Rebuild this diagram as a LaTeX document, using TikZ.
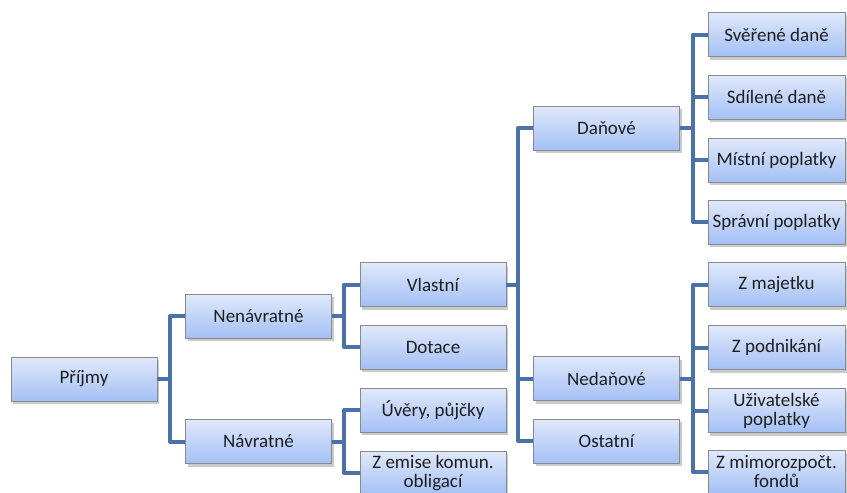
\documentclass[tikz,border=0pt]{standalone}
\usepackage{fontspec}
\setmainfont{Carlito}
\usetikzlibrary{shadows}
\definecolor{linkblue}{HTML}{4A72A8}
\definecolor{boxtop}{HTML}{E0E9FB}
\definecolor{boxbot}{HTML}{A3C0F5}
\definecolor{boxline}{HTML}{8A8A8A}
\definecolor{txt}{HTML}{1E1E1E}
\tikzset{
  box/.style={draw=boxline, line width=0.8pt, top color=boxtop, bottom color=boxbot,
    minimum width=146pt, minimum height=44pt, inner sep=1pt, align=center,
    text=txt, font=\fontsize{19}{19}\selectfont,
    drop shadow={shadow xshift=2pt, shadow yshift=-3pt, opacity=0.35, fill=black!60}},
  narrow/.style={box, minimum width=137pt},
  link/.style={draw=linkblue, line width=4pt, line join=round}
}
\begin{document}
\begin{tikzpicture}[x=1pt, y=-1pt]
\useasboundingbox (0,0) rectangle (847,493);
\node[box] (prijmy) at (84,379) {Příjmy};
\node[box] (nenav) at (258.5,316) {Nenávratné};
\node[box] (nav) at (258.5,441.5) {Návratné};
\node[box] (vlast) at (433,284.5) {Vlastní};
\node[box] (dot) at (433,347) {Dotace};
\node[box] (uver) at (433,410) {Úvěry, půjčky};
\node[box] (emise) at (433,473) {Z emise komun.\\obligací};
\node[box] (dan) at (606.5,128) {Daňové};
\node[box] (nedan) at (606.5,378.5) {Nedaňové};
\node[box] (ost) at (606.5,441) {Ostatní};
\node[narrow] (sver) at (776.5,34.5) {Svěřené daně};
\node[narrow] (sdil) at (776.5,97) {Sdílené daně};
\node[narrow] (mist) at (776.5,160) {Místní poplatky};
\node[narrow] (sprav) at (776.5,222) {Správní poplatky};
\node[narrow] (maj) at (776.5,284.5) {Z majetku};
\node[narrow] (podn) at (776.5,347.5) {Z podnikání};
\node[narrow] (uziv) at (776.5,410.5) {Uživatelské\\poplatky};
\node[narrow] (mimo) at (776.5,472) {Z mimorozpočt.\\fondů};
% connectors
\foreach \p/\c in {prijmy/nenav, prijmy/nav}
  \draw[link] (\p.east) -- (170,0 |- \p.east) |- (\c.west);
\foreach \p/\c in {nenav/vlast, nenav/dot}
  \draw[link] (\p.east) -- (344,0 |- \p.east) |- (\c.west);
\foreach \p/\c in {nav/uver, nav/emise}
  \draw[link] (\p.east) -- (344,0 |- \p.east) |- (\c.west);
\foreach \p/\c in {vlast/dan, vlast/nedan, vlast/ost}
  \draw[link] (\p.east) -- (518,0 |- \p.east) |- (\c.west);
\foreach \p/\c in {dan/sver, dan/sdil, dan/mist, dan/sprav}
  \draw[link] (\p.east) -- (693,0 |- \p.east) |- (\c.west);
\foreach \p/\c in {nedan/maj, nedan/podn, nedan/uziv, nedan/mimo}
  \draw[link] (\p.east) -- (693,0 |- \p.east) |- (\c.west);
\end{tikzpicture}
\end{document}
